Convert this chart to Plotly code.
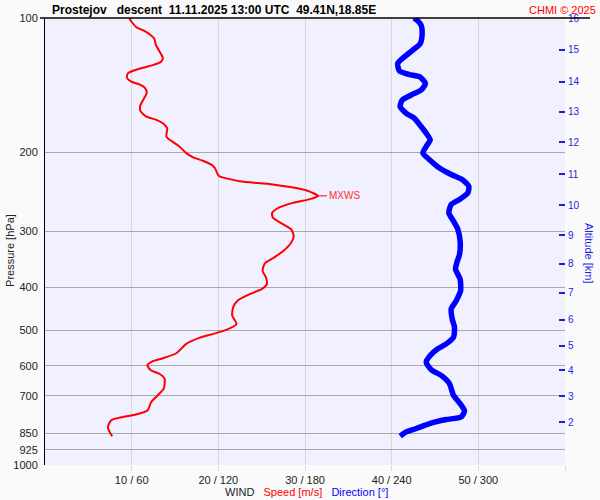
import math
import plotly.graph_objects as go

# wind speed profile (pressure hPa, speed m/s)
pressure_speed = [100, 101.7, 104.7, 106.5, 108.9, 111.2, 115.0, 118.6, 122.8, 125.3,
                  127.5, 129.2, 131.4, 133.1, 136.0, 138.8, 140.8, 143.2, 146.7, 151.7,
                  157.0, 161.4, 166.2, 169.0, 172.0, 176.4, 184.1, 187.3, 193.8, 200.6,
                  205.0, 208.6, 212.9, 216.6, 224.0, 226.0, 231.9, 235.8, 243.2, 250.0,
                  253.9, 259.2, 265.0, 272.9, 279.9, 289.5, 297.0, 307.4, 318.2, 332.0,
                  344.7, 354.4, 367.9, 380.8, 394.0, 404.3, 414.8, 427.6, 444.1, 463.4,
                  483.6, 498.7, 509.0, 519.6, 535.8, 562.3, 576.8, 585.8, 598.9, 614.4,
                  624.9, 641.1, 674.9, 698.5, 722.8, 754.3, 771.2, 780.7, 794.1, 821.8,
                  843.2, 862.0]
speed_ms = [9.7, 9.95, 10.5, 11.3, 12.1, 12.6, 12.8, 13.2, 13.6, 13.4,
            12.45, 11.3, 10.1, 9.55, 9.45, 9.95, 10.9, 11.5, 11.75, 11.4,
            11.0, 11.0, 11.7, 12.85, 13.6, 14.1, 14.0, 14.4, 15.5, 16.3,
            17.1, 18.2, 19.2, 19.6, 19.95, 20.15, 22.5, 26.3, 30.2, 31.5,
            30.7, 28.6, 27.1, 26.2, 26.3, 27.5, 28.4, 28.7, 28.4, 27.5,
            26.3, 25.35, 25.1, 25.5, 25.6, 25.0, 23.6, 22.3, 21.7, 21.6,
            22.1, 20.9, 19.4, 17.8, 16.3, 15.15, 13.6, 12.45, 11.8, 12.25,
            13.2, 13.8, 13.7, 13.0, 12.25, 11.85, 10.5, 9.0, 7.65, 7.25,
            7.45, 7.75]

# wind direction profile (pressure hPa, direction deg)
pressure_dir = [100, 101.5, 103.8, 108.4, 114.1, 118.0, 122.1, 126.4, 131.4, 133.8,
                135.3, 140.1, 144.9, 148.7, 152.6, 157.9, 163.4, 167.7, 174.9, 181.0,
                187.3, 193.8, 200.6, 207.5, 216.6, 224.0, 229.9, 237.9, 246.2, 254.7,
                261.4, 272.9, 284.7, 297.0, 315.4, 337.7, 352.6, 364.7, 383.9, 407.6,
                429.1, 447.7, 471.3, 492.0, 518.1, 535.8, 549.6, 568.9, 588.8, 612.2,
                630.4, 657.7, 698.5, 728.9, 756.8, 780.7, 791.2, 807.6, 828.6, 843.2,
                862.0]
direction_deg = [255.5, 258.1, 260.4, 261.1, 259.8, 254.6, 248.9, 244.2, 245.4, 252.3,
                 259.3, 263.4, 260.4, 253.5, 247.3, 245.9, 250.1, 255.8, 260.4, 263.9,
                 266.7, 263.9, 261.6, 266.2, 273.1, 281.2, 288.8, 293.4, 292.7, 287.0,
                 281.2, 279.6, 282.8, 285.8, 287.4, 287.0, 285.1, 284.2, 287.4, 287.7,
                 284.7, 281.2, 281.9, 283.5, 282.8, 277.8, 271.9, 266.7, 263.9, 267.4,
                 274.3, 280.0, 282.8, 287.4, 290.4, 288.1, 277.8, 266.2, 257.0, 250.1,
                 245.9]

# axes
pressure_ticks = [100, 200, 300, 400, 500, 600, 700, 850, 925, 1000]
wind_ticks = [10, 20, 30, 40, 50, 60]
wind_labels = ["10 / 60", "20 / 120", "30 / 180", "40 / 240", "50 / 300", ""]
altitude_km = [16, 15, 14, 13, 12, 11, 10, 9, 8, 7, 6, 5, 4, 3, 2]
altitude_pressure = [100, 117.8, 138.8, 161.9, 189.8, 223.7, 262.3, 305.9,
                     354.9, 411.8, 473.0, 540.4, 614.3, 702.0, 802.4]
mxws_pressure = 250.0
mxws_speed = 31.5

FONT = "Liberation Sans, Arial, sans-serif"
ALT_BLUE = "#1E1EE0"
W, H = 600, 500
L, R, T, B = 45, 35, 16, 35
PW, PH = W - L - R, H - T - B


def px(x):
    return (x - L) / PW


def py(y):
    return 1 - (y - T) / PH


fig = go.Figure()

fig.add_trace(go.Scatter(
    x=speed_ms, y=pressure_speed, mode="lines",
    line=dict(color="#FF0000", width=2, shape="spline", smoothing=0.6),
    hoverinfo="x+y", showlegend=False
))
fig.add_trace(go.Scatter(
    x=direction_deg, y=pressure_dir, xaxis="x2", yaxis="y2", mode="lines",
    line=dict(color="#0000FF", width=5.5, shape="spline", smoothing=0.6),
    hoverinfo="x+y", showlegend=False
))

fig.update_layout(
    width=W, height=H,
    margin=dict(l=L, r=R, t=T, b=B),
    paper_bgcolor="#FAFAFA",
    plot_bgcolor="#F0F0FF",
    font=dict(family=FONT, size=11, color="#222222"),
    xaxis=dict(
        range=[0, 60], tickvals=wind_ticks, ticktext=wind_labels,
        showgrid=True, gridcolor="#D8D8DC", gridwidth=1,
        ticks="outside", ticklen=5, tickcolor="#D8D8DC",
        zeroline=False, showline=False, fixedrange=True,
        tickfont=dict(size=11, color="#222222"),
    ),
    xaxis2=dict(range=[0, 360], overlaying="x", visible=False),
    yaxis=dict(
        type="log", range=[3, 2], tickvals=pressure_ticks,
        ticktext=[str(p) for p in pressure_ticks],
        showgrid=True, gridcolor="#A8A8A8", gridwidth=1,
        ticks="", showline=True, linecolor="#000000", linewidth=1,
        zeroline=False, tickfont=dict(size=11, color="#222222"),
        ticklabelstandoff=4,
    ),
    yaxis2=dict(
        type="log", range=[3, 2], overlaying="y", side="right",
        tickvals=altitude_pressure, ticktext=[str(a) for a in altitude_km],
        showgrid=False, ticks="inside", ticklen=6, tickwidth=2, tickcolor=ALT_BLUE,
        tickfont=dict(size=10, color=ALT_BLUE), showline=False, zeroline=False,
        ticklabelstandoff=2,
    ),
)

# top border line
fig.add_shape(type="line", xref="paper", yref="paper",
              x0=px(40), x1=px(590), y0=1, y1=1,
              line=dict(color="#000000", width=1.5))
# maximum wind level markers on both axes
lp = math.log10(mxws_pressure)
fig.add_shape(type="line", xref="paper", yref="y", x0=px(43), x1=px(56), y0=lp, y1=lp,
              line=dict(color="#FF0000", width=1))
fig.add_shape(type="line", xref="paper", yref="y", x0=px(555), x1=px(568), y0=lp, y1=lp,
              line=dict(color="#FF0000", width=1))

fig.add_annotation(
    x=mxws_speed, y=lp, xref="x", yref="y", text="MXWS",
    showarrow=True, arrowhead=0, arrowwidth=1, arrowcolor="#FF0000",
    ax=26, ay=0, font=dict(size=10, color="#FF3030", family=FONT)
)

nb = "\u00a0"
title = ("Prostejov" + nb * 3 + "descent" + nb * 2 + "11.11.2025 13:00 UTC"
         + nb * 2 + "49.41N,18.85E")
fig.add_annotation(
    x=px(50), y=py(8), xref="paper", yref="paper", xanchor="left", yanchor="middle",
    text="<b>" + title + "</b>",
    showarrow=False, font=dict(size=12, color="#000000", family=FONT)
)
fig.add_annotation(
    x=px(598), y=py(8), xref="paper", yref="paper", xanchor="right", yanchor="middle",
    text="CHMI \u00a9 2025", showarrow=False, font=dict(size=11, color="#FF0000", family=FONT)
)
fig.add_annotation(
    x=px(10), y=py(250), xref="paper", yref="paper", xanchor="center", yanchor="middle",
    text="Pressure [hPa]", textangle=-90, showarrow=False,
    font=dict(size=11, color="#222222", family=FONT)
)
fig.add_annotation(
    x=px(589), y=py(252), xref="paper", yref="paper", xanchor="center", yanchor="middle",
    text="Altitude [km]", textangle=90, showarrow=False,
    font=dict(size=11, color=ALT_BLUE, family=FONT)
)
fig.add_annotation(
    x=px(306), y=py(492), xref="paper", yref="paper", xanchor="center", yanchor="middle",
    text="WIND" + nb * 3 + "<span style='color:#FF0000'>Speed [m/s]</span>"
         + nb * 3 + "<span style='color:#0000FF'>Direction [°]</span>",
    showarrow=False, font=dict(size=11, color="#222222", family=FONT)
)

fig.write_html("out.html", config={"displayModeBar": False},
               post_script="document.body.style.margin='0';")
